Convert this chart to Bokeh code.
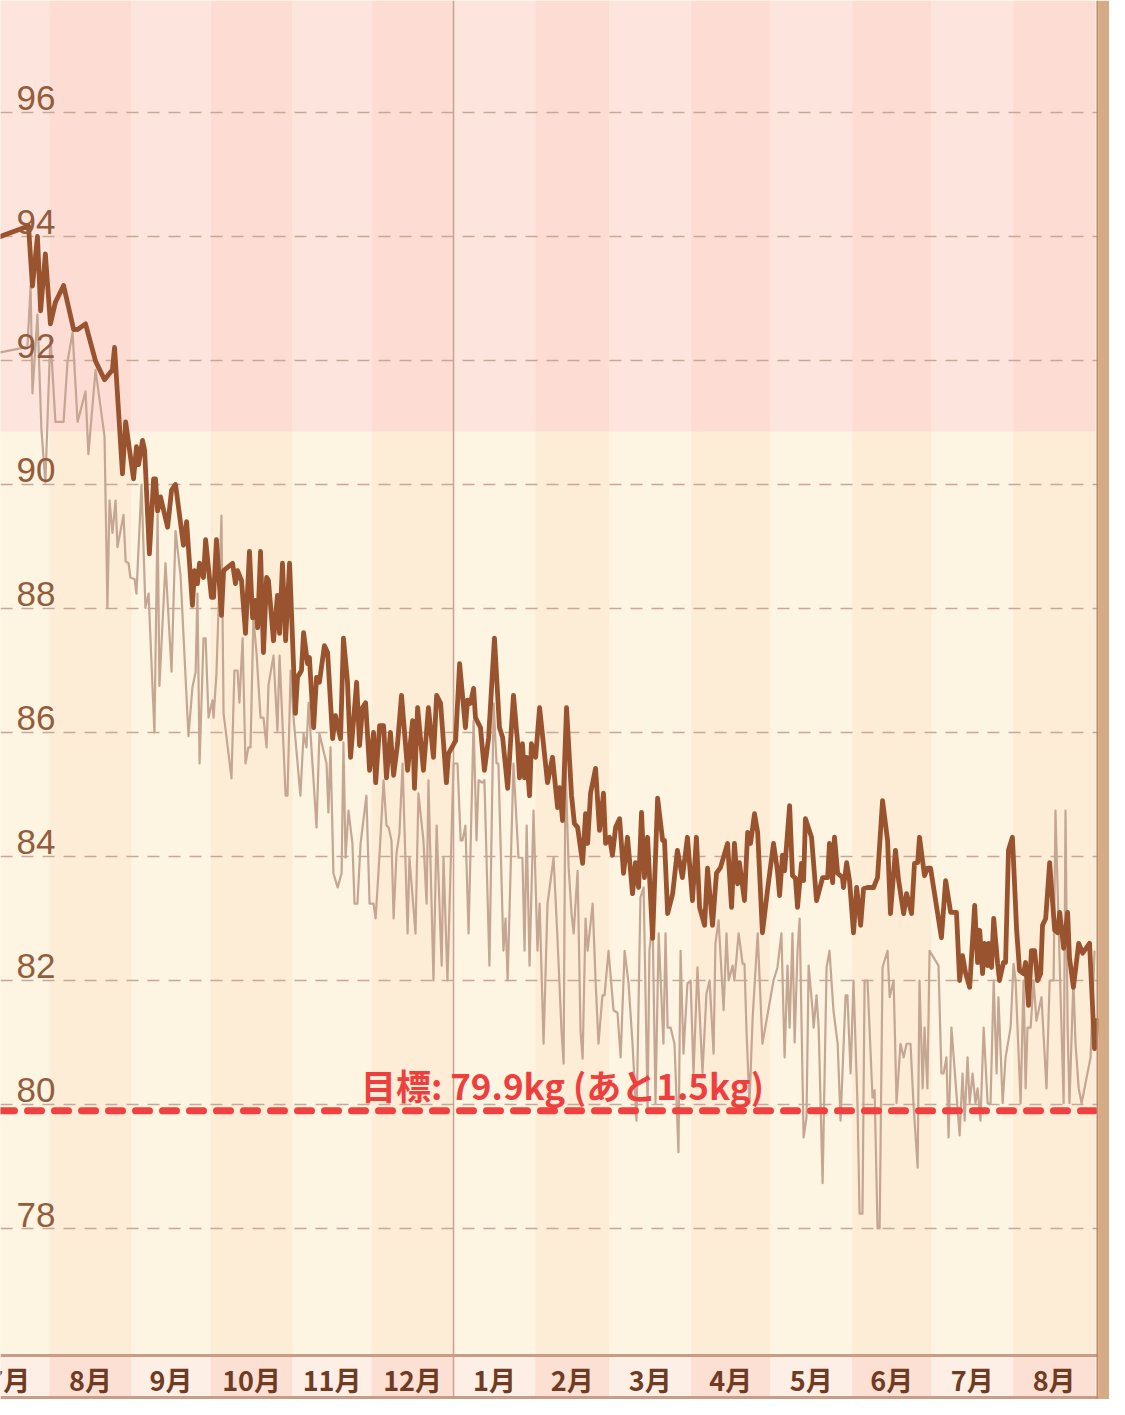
import datetime as dt
from bokeh.plotting import figure
from bokeh.models import Range1d, FixedTicker, Span
from bokeh.core.properties import value
from bokeh.embed import file_html
from bokeh.resources import INLINE

# ---------------- data ----------------
START = dt.date(2022, 7, 1)          # day 0 of the x axis
GOAL_KG = 79.9
REMAINING_KG = 1.5
OBESE_KG = 90.85
Y_TICKS = [78, 80, 82, 84, 86, 88, 90, 92, 94, 96]

trend_days = [
    1.8, 12.4, 23.0, 24.5, 26.4, 27.6, 29.4, 31.3, 33.2, 36.3,
    40.1, 41.6, 44.6, 48.4, 51.8, 54.8, 55.6, 58.6, 59.8, 62.8,
    63.9, 64.7, 66.2, 67.0, 68.8, 70.4, 71.1, 71.9, 73.0, 75.7,
    77.2, 78.7, 81.7, 82.9,
    85.1, 85.9, 87.0, 87.8, 89.3, 90.1, 92.3, 93.1, 94.2, 96.1,
    96.9, 100.3, 101.4, 102.2, 103.7, 105.2, 106.7, 107.9, 109.0, 109.8,
    110.9, 112.0, 113.2, 113.9, 115.8, 117.3, 118.1, 119.2, 120.4, 121.9,
    124.1, 124.9, 126.4, 127.2, 128.7, 129.4, 131.0, 132.1, 133.2, 135.1,
    136.3, 138.2, 139.3, 141.2, 142.3, 143.8, 145.0, 147.3, 148.4, 149.5,
    150.7, 152.2,
    153.7, 154.5, 156.0, 157.5, 158.6, 160.1, 161.3, 162.8, 164.3, 166.6,
    168.5, 169.2, 170.4, 172.6, 174.5, 176.4, 177.6, 179.1, 181.3, 182.1,
    184.8, 186.3, 188.5, 189.3, 190.4, 191.6, 192.3, 194.2, 195.7, 197.3,
    199.5, 201.4, 202.6, 204.5, 206.7, 208.2, 209.0, 210.1, 210.9, 211.7,
    212.8, 213.5, 215.1, 216.6, 219.6, 221.5,
    223.4, 224.2, 225.3, 226.8, 228.7, 229.8, 231.0, 232.9, 234.0, 234.8,
    235.9, 237.8, 239.3, 240.8, 241.6, 243.1, 244.2, 245.4, 246.9, 248.4,
    249.9, 251.8, 252.9, 254.1, 255.2, 256.3, 257.5, 259.4, 261.3, 263.2,
    263.9, 265.1, 267.0, 268.8, 270.7, 272.6, 274.5, 276.0, 277.2, 279.1,
    280.2, 282.1, 283.6, 285.1, 287.8, 289.3, 290.4, 291.6, 292.3, 294.2,
    295.4, 296.5, 298.0, 299.2, 301.0, 302.9, 305.2, 306.7, 307.5, 308.6,
    309.4, 311.3, 312.4, 313.5, 314.3, 315.8, 316.6, 317.3, 319.6, 321.5,
    323.8, 325.7, 326.4, 327.6, 328.3, 329.5, 331.3, 331.7, 332.9, 334.0,
    335.5, 336.7, 338.2, 339.3, 340.8, 343.1, 344.6, 346.5, 348.4, 349.5,
    351.4, 352.6, 354.5, 355.6, 357.5, 358.6, 359.8, 360.5, 362.4, 363.5,
    364.7, 368.8, 370.4, 372.3, 374.5, 375.7, 376.8, 378.0, 379.5, 381.4,
    382.5, 383.3, 384.4, 385.1, 386.3, 386.7, 387.8, 388.6, 390.1, 390.8,
    392.3, 393.1, 394.2, 395.7, 397.3, 398.4, 399.9, 400.7, 401.8, 402.9,
    404.1, 405.2, 406.4, 407.1, 408.3, 409.8, 411.7, 412.8, 413.6, 415.1,
    416.6, 417.3, 418.8, 420.8, 422.3, 424.9, 426.8, 428.0,
]
trend_kg = [
    93.84, 94.00, 94.17, 93.20, 94.00, 92.80, 93.72, 92.59, 92.94, 93.21,
    92.50, 92.50, 92.59, 91.99, 91.69, 91.85, 92.21, 90.17, 91.01, 90.09,
    90.61, 90.32, 90.71, 90.55, 88.88, 90.09, 90.09, 89.57, 89.80, 89.31,
    89.91, 90.00, 89.02, 89.40,
    88.05, 88.61, 88.40, 88.73, 88.50, 89.11, 88.18, 88.18, 89.11, 87.89,
    88.61, 88.73, 88.40, 88.61, 88.45, 87.60, 88.92, 87.85, 88.13, 87.69,
    88.92, 87.29, 88.50, 88.45, 87.48, 88.21, 87.60, 88.73, 87.48, 88.73,
    86.31, 86.89, 87.00, 87.61, 87.11, 87.21, 86.08, 86.89, 86.81, 87.40,
    87.29, 85.90, 86.27, 85.90, 87.52, 86.84, 85.60, 86.81, 85.79, 86.40,
    86.48, 85.39,
    86.00, 85.19, 86.11, 86.11, 85.27, 86.00, 85.31, 85.82, 86.60, 85.39,
    86.19, 85.10, 86.40, 85.39, 86.40, 85.60, 86.60, 86.47, 85.19, 85.66,
    85.87, 87.11, 86.08, 86.52, 86.47, 86.71, 86.24, 86.08, 85.39, 85.92,
    87.52, 86.08, 85.92, 85.10, 86.60, 85.87, 85.27, 85.82, 85.27, 85.60,
    84.98, 85.82, 85.60, 86.40, 85.19, 85.60,
    84.79, 85.11, 84.58, 86.40, 84.98, 84.53, 84.47, 83.89, 84.69, 84.21,
    85.02, 85.42, 84.42, 85.02, 84.21, 84.31, 84.02, 84.47, 84.61, 83.73,
    84.31, 83.40, 83.90, 83.50, 84.71, 83.66, 84.31, 82.68, 84.94, 84.26,
    84.26, 83.08, 83.40, 84.10, 83.66, 84.31, 83.29, 84.31, 83.18, 82.89,
    83.81, 82.89, 83.73, 83.82, 84.21, 83.18, 84.21, 83.56, 83.90, 83.29,
    84.39, 84.21, 84.69, 84.39, 82.77, 83.45, 84.21, 83.77, 83.37, 84.02,
    83.77, 84.82, 83.69, 83.65, 83.18, 83.89, 83.61, 84.61, 84.31, 83.29,
    83.66, 83.66, 84.21, 83.58, 84.31, 83.73, 83.66, 83.50, 83.90, 83.61,
    82.77, 83.50, 82.89, 83.48, 83.50, 83.50, 83.66, 84.90, 84.26, 83.08,
    84.10, 83.61, 83.08, 83.40, 83.08, 83.89, 83.90, 84.31, 83.69, 83.81,
    83.81, 82.69, 83.61, 83.10, 83.10, 82.00, 82.40, 82.11, 81.89, 83.21,
    82.29, 82.81, 82.11, 82.60, 82.24, 82.60, 82.21, 83.00, 82.27, 82.00,
    82.29, 82.29, 84.10, 84.31, 82.81, 82.16, 82.11, 82.29, 81.60, 82.48,
    82.48, 82.00, 82.11, 82.89, 83.00, 83.90, 82.81, 82.77, 83.10, 82.52,
    83.10, 82.37, 81.89, 82.60, 82.44, 82.60, 80.90, 81.39,
]

daily_days = [
    1.8, 12.4, 22.6, 23.8, 24.5, 26.4, 27.9, 29.4, 31.3, 33.2,
    36.3, 37.8, 39.7, 41.6, 44.6, 45.7, 48.4, 51.8, 52.9, 53.7,
    54.8, 56.0, 56.7, 59.0, 59.8, 60.9, 61.6, 63.2, 63.9, 65.8,
    67.3, 68.5, 70.7, 71.9, 72.6, 74.9, 77.2, 78.7, 80.6, 83.6,
    85.1, 86.3, 87.0, 87.8, 89.3, 90.1, 91.2, 92.7, 93.1, 94.2,
    96.1, 96.9, 99.9, 101.0, 102.2, 102.9, 104.1, 105.2, 106.3, 107.1,
    108.2, 109.4, 110.9, 112.0, 113.2, 113.9, 115.8, 117.3, 118.1, 120.4,
    121.1, 122.3, 123.4, 126.0, 127.2, 128.3, 129.1, 132.1, 133.2, 135.9,
    136.6, 137.4, 138.5, 140.1, 141.6, 142.3, 143.1, 144.2, 145.7, 146.5,
    147.6, 148.8, 151.0, 152.2, 153.7, 154.5, 156.0, 157.5, 158.6, 159.4,
    160.5, 161.3, 162.4, 163.5, 164.7, 166.6, 167.3, 169.6, 170.7, 172.6,
    173.8, 174.5, 176.4, 177.6, 179.5, 180.2, 181.7, 184.0, 185.5, 186.7,
    187.4, 188.5, 189.7, 191.6, 192.7, 193.5, 195.0, 195.7, 197.6, 199.2,
    200.3, 201.0, 202.9, 203.7, 204.5, 206.7, 208.6, 210.1, 210.9, 211.7,
    212.8, 214.3, 215.8, 216.6, 218.1, 219.6, 221.9, 223.4, 224.9, 225.7,
    226.4, 227.6, 228.7, 229.5, 231.0, 232.1, 232.9, 234.0, 234.8, 236.7,
    237.8, 238.9, 240.4, 241.2, 242.7, 244.6, 246.1, 247.3, 248.8, 250.3,
    251.8, 253.3, 254.8, 256.0, 257.5, 258.2, 259.4, 260.5, 261.7, 263.5,
    264.3, 265.1, 266.2, 267.7, 269.2, 270.0, 271.1, 272.6, 273.8, 274.9,
    276.4, 278.3, 279.8, 281.0, 282.5, 283.2, 284.4, 286.3, 287.4, 288.2,
    289.7, 290.4, 292.0, 293.5, 294.2, 295.0, 296.1, 297.3, 299.2, 301.0,
    305.2, 306.7, 308.2, 309.4, 310.5, 311.3, 312.4, 313.2, 314.3, 315.1,
    316.6, 317.7, 318.5, 320.0, 320.4, 321.5, 322.3, 323.8, 325.3, 326.4,
    327.9, 329.5, 330.6, 332.5, 333.2, 334.4, 335.5, 337.0, 337.8, 338.9,
    339.7, 340.8, 342.7, 343.5, 344.6, 345.4, 346.5, 348.4, 349.2, 350.7,
    351.8, 353.3, 354.5, 355.6, 357.1, 358.2, 359.8, 360.5, 361.7, 362.4,
    363.5, 364.3, 367.7, 368.8, 369.6, 370.7, 371.5, 372.6, 375.7, 376.8,
    377.6, 378.7, 379.5, 380.6, 381.7, 382.5, 383.6, 384.8, 386.3, 387.4,
    388.6, 389.7, 390.4, 392.0, 393.1, 395.0, 396.1, 396.9, 398.8, 399.9,
    400.7, 401.4, 402.6, 403.7, 404.8, 406.7, 408.6, 409.8, 411.3, 412.0,
    413.6, 415.1, 415.8, 416.6, 417.3, 418.8, 419.6, 420.8, 421.9, 425.3,
    426.8,
]
daily_kg = [
    92.05, 92.13, 92.22, 93.20, 91.47, 92.74, 90.89, 90.03, 92.39, 91.01,
    91.01, 91.99, 92.45, 91.01, 91.50, 90.49, 91.85, 90.78, 88.01, 89.74,
    89.22, 89.74, 88.99, 89.51, 88.76, 88.73, 88.50, 88.47, 88.24, 90.00,
    88.01, 88.24, 86.00, 89.51, 86.75, 88.73, 86.98, 89.25, 88.53, 85.94,
    86.73, 86.97, 88.24, 85.50, 87.52, 87.52, 86.24, 86.52, 86.24, 86.95,
    89.50, 86.31, 85.26, 87.00, 87.00, 86.48, 87.52, 85.50, 85.76, 85.76,
    87.85, 87.27, 86.24, 86.24, 85.76, 86.76, 87.24, 86.03, 87.24, 84.98,
    84.98, 87.00, 86.24, 84.98, 85.98, 85.76, 86.48, 84.47, 85.98, 85.50,
    84.71, 85.76, 83.73, 83.50, 83.73, 85.84, 83.98, 84.74, 84.21, 83.24,
    83.24, 84.21, 84.98, 83.24, 83.24, 83.00, 84.05, 85.23, 84.50, 84.47,
    84.26, 83.00, 84.05, 84.37, 85.50, 82.76, 83.98, 82.76, 85.02, 84.26,
    83.24, 85.23, 82.00, 84.50, 82.24, 83.98, 82.00, 85.50, 85.50, 84.26,
    84.26, 84.50, 82.76, 86.19, 84.26, 85.23, 85.19, 85.23, 82.24, 86.47,
    85.50, 85.50, 82.48, 83.00, 82.00, 85.50, 83.98, 83.98, 82.48, 84.50,
    82.24, 84.74, 82.48, 83.24, 80.98, 83.24, 83.98, 82.65, 81.19, 80.66,
    85.50, 83.82, 83.08, 82.76, 83.77, 81.19, 80.74, 83.00, 82.48, 83.24,
    82.00, 80.98, 81.76, 81.76, 82.48, 81.52, 81.48, 80.76, 82.48, 81.95,
    80.98, 79.74, 83.34, 83.50, 79.95, 82.48, 82.97, 80.02, 82.76, 80.98,
    82.76, 81.24, 81.24, 80.98, 79.23, 82.48, 80.82, 81.95, 82.00, 80.50,
    82.21, 80.50, 81.79, 82.00, 80.82, 82.60, 82.97, 81.52, 82.76, 82.00,
    82.24, 82.00, 82.76, 82.27, 82.27, 81.15, 80.02, 81.40, 82.76, 80.98,
    82.00, 82.21, 82.76, 80.76, 82.24, 81.24, 82.76, 81.00, 82.48, 83.00,
    79.47, 79.79, 82.24, 81.52, 81.24, 81.76, 81.24, 78.73, 82.21, 82.48,
    81.52, 80.98, 79.74, 81.76, 81.76, 80.50, 82.00, 80.02, 78.24, 78.24,
    82.00, 82.00, 80.11, 80.23, 78.00, 78.00, 82.21, 82.48, 81.73, 82.00,
    80.02, 80.98, 80.76, 80.98, 80.98, 80.02, 78.98, 82.00, 80.26, 81.24,
    80.26, 82.48, 82.24, 80.50, 80.50, 80.76, 79.47, 81.24, 79.50, 80.50,
    79.74, 80.76, 80.02, 80.50, 80.02, 80.26, 79.74, 81.24, 80.02, 80.02,
    82.00, 80.50, 81.73, 80.02, 80.76, 81.24, 82.27, 82.00, 80.02, 82.00,
    80.26, 81.24, 81.24, 82.00, 81.35, 81.73, 80.26, 82.00, 82.00, 84.74,
    82.27, 80.02, 84.74, 81.24, 80.02, 82.00, 80.98, 80.26, 80.02, 80.76,
    82.48,
]

# month calendar (Jul 2022 .. Aug 2023)
month_dates = [dt.date(2022 + (6 + i) // 12, (6 + i) % 12 + 1, 1) for i in range(15)]
month_start = [(m - START).days for m in month_dates[:-1]]
month_end = [(m - START).days for m in month_dates[1:]]
month_names = [f"{m.month}月" for m in month_dates[:-1]]
month_even = [m.month % 2 == 0 for m in month_dates[:-1]]
year_change = (dt.date(2023, 1, 1) - START).days

# ---------------- layout constants ----------------
X_START, X_END = 12.4, 428.3
Y_BOTTOM, Y_TOP = 75.242, 97.806
BAND_TOP = 75.952
BAND_BOTTOM_LINE = 75.274
LABEL_Y = 75.56

p = figure(width=1109, height=1399,
           x_range=Range1d(X_START, X_END), y_range=Range1d(Y_BOTTOM, Y_TOP),
           x_axis_location=None, y_axis_location=None,
           output_backend="svg", toolbar_location=None,
           min_border_left=0, min_border_top=0, min_border_bottom=0,
           min_border_right=11,
           border_fill_color="#d6aa84", background_fill_color="#fdf2df",
           outline_line_color=None)

# month bands
n = len(month_start)
pink = ["#fcdcd3" if e else "#fde5de" for e in month_even]
cream = ["#fdedd7" if e else "#fef4e2" for e in month_even]
band = ["#fbe0d3" if e else "#fdefe6" for e in month_even]
p.quad(left=month_start, right=month_end, bottom=[OBESE_KG] * n, top=[Y_TOP] * n,
       fill_color=pink, line_color=None, level="image")
p.quad(left=month_start, right=month_end, bottom=[BAND_TOP] * n, top=[OBESE_KG] * n,
       fill_color=cream, line_color=None, level="image")
p.quad(left=month_start, right=month_end, bottom=[Y_BOTTOM] * n, top=[BAND_TOP] * n,
       fill_color=band, line_color=None, level="image")

# grid
p.xgrid.visible = False
p.ygrid.ticker = FixedTicker(ticks=Y_TICKS)
p.ygrid.grid_line_color = "#c8a797"
p.ygrid.grid_line_width = 1.5
p.ygrid.grid_line_dash = "12 9"

p.add_layout(Span(location=year_change, dimension="height", line_color="#c6a493",
                  line_width=1.5, level="underlay"))

# data
p.line(daily_days, daily_kg, line_color="#c4a693", line_width=2.2, line_join="round")
p.line(trend_days, trend_kg, line_color="#99532e", line_width=4.8, line_join="round")

# goal
p.add_layout(Span(location=GOAL_KG, dimension="width", line_color="#f0403f",
                  line_width=7, line_dash="14 13", line_cap="round"))
p.text(x=[(X_START + X_END) / 2], y=[GOAL_KG],
       text=[f"目標: {GOAL_KG}kg (あと{REMAINING_KG}kg)"],
       x_offset=13, y_offset=-26, text_align="center", text_baseline="alphabetic",
       text_font=value("Noto Sans CJK JP"), text_font_style="bold",
       text_font_size="35px", text_color="#ef3e3e")

# axis band borders
p.add_layout(Span(location=BAND_TOP, dimension="width", line_color="#c79d87", line_width=3))
p.add_layout(Span(location=BAND_BOTTOM_LINE, dimension="width", line_color="#c79d87", line_width=3))
p.add_layout(Span(location=X_END, dimension="height", line_color="#b98b69", line_width=4))

# y tick labels (inside plot)
p.text(x=[X_START] * len(Y_TICKS), y=Y_TICKS, text=[str(t) for t in Y_TICKS],
       x_offset=16, y_offset=-14, text_align="left", text_baseline="alphabetic",
       text_font=value("Liberation Sans"), text_font_size="35px", text_color="#935c3c")

# month labels
p.text(x=[(a + b) / 2 for a, b in zip(month_start, month_end)], y=[LABEL_Y] * n,
       text=month_names, text_align="center", text_baseline="middle",
       text_font=value("Noto Sans CJK JP"), text_font_style="bold",
       text_font_size="27px", text_color="#6f3b22")

open("out.html", "w").write(file_html(p, INLINE))
